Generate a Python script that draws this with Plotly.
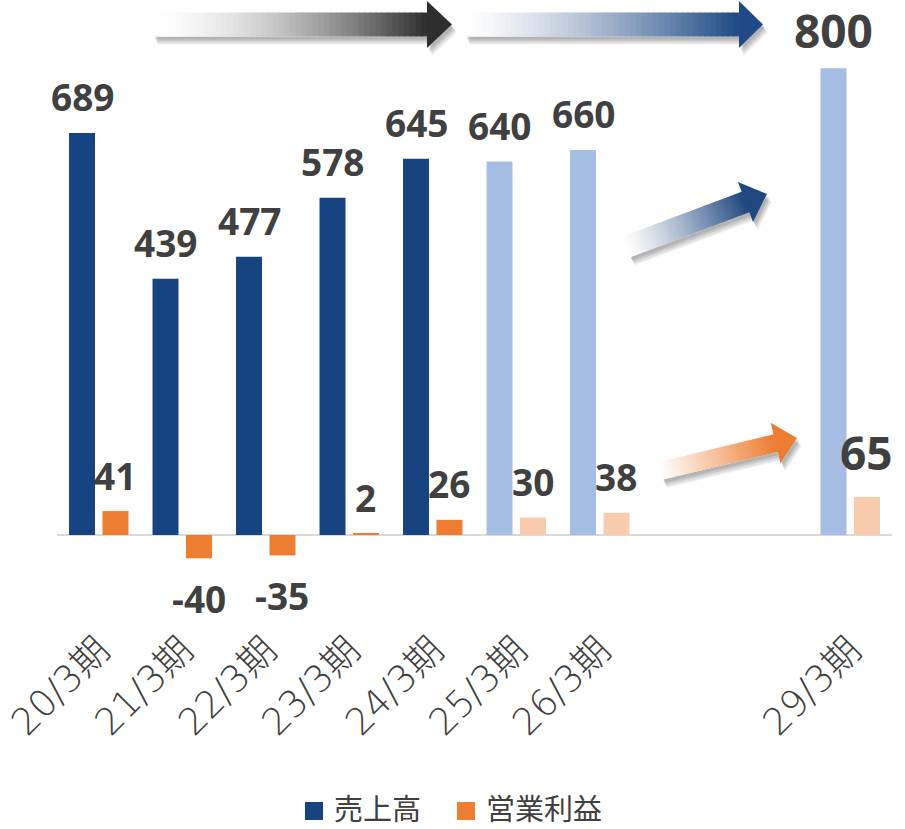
import plotly.graph_objects as go

# ---------------- data ----------------
categories = ['20/3期', '21/3期', '22/3期', '23/3期', '24/3期',
              '25/3期', '26/3期', '27/3期', '28/3期', '29/3期']
sales = [689, 439, 477, 578, 645, 640, 660, None, None, 800]
op_profit = [41, -40, -35, 2, 26, 30, 38, None, None, 65]
is_forecast = [False, False, False, False, False, True, True, True, True, True]
big_label = [False] * 9 + [True]
shown_ticks = [c for c, s in zip(categories, sales) if s is not None]

# ---------------- style ----------------
W, H = 905, 829
ML, MR, MT, MB = 57, 13, 10, 209
PW, PH = W - ML - MR, H - MT - MB
SALES_ACT, SALES_FC = '#174480', '#A6BDE4'
OP_ACT, OP_FC = '#ED7D31', '#F8CBAD'
TXT = '#404040'
NUM_FONT = 'Open Sans, Noto Sans, DejaVu Sans'
JP_FONT = 'Noto Sans CJK JP'
TICK_FONT = 'DejaVu Sans, Noto Sans CJK JP'

fig = go.Figure()
fig.add_trace(go.Bar(
    x=categories, y=sales, name='売上高',
    marker=dict(color=[SALES_FC if f else SALES_ACT for f in is_forecast], line_width=0),
    hoverinfo='x+y', showlegend=False))
fig.add_trace(go.Bar(
    x=categories, y=op_profit, name='営業利益',
    marker=dict(color=[OP_FC if f else OP_ACT for f in is_forecast], line_width=0),
    hoverinfo='x+y', showlegend=False))

# ---------------- data labels ----------------
SLOT = PW / len(categories) * (1 - 0.198) / 2  # px width of one bar slot
for series, side, big_off in ((sales, -1, 38), (op_profit, 1, 45)):
    for c, v, big in zip(categories, series, big_label):
        if v is None:
            continue
        size = 46 if big else 37
        off = (big_off if big else 36) if v >= 0 else -40
        fig.add_annotation(
            x=c, y=v, xref='x', yref='y', text=str(v), showarrow=False,
            xshift=side * SLOT / 2, yshift=off, yanchor='middle', borderpad=0,
            font=dict(family=NUM_FONT, size=size, color=TXT, weight='bold'))

# ---------------- helpers for decorations (pixel -> paper) ----------------
def px(x):
    return (x - ML) / PW


def py(y):
    return (MT + PH - y) / PH


def poly_path(pts):
    return 'M ' + ' L '.join(f'{px(x):.5f},{py(y):.5f}' for x, y in pts) + ' Z'


def mix(c0, c1, t):
    a = [int(c0[i:i + 2], 16) for i in (1, 3, 5)]
    b = [int(c1[i:i + 2], 16) for i in (1, 3, 5)]
    return 'rgb(%d,%d,%d)' % tuple(round(a[k] + (b[k] - a[k]) * t) for k in range(3))


def arrow(x0, y0, x1, y1, hw_shaft, hw_head, head_len, c0, c1, n=48, gamma=1.4):
    dx, dy = x1 - x0, y1 - y0
    L = (dx * dx + dy * dy) ** 0.5
    ux, uy = dx / L, dy / L
    nx, ny = -uy, ux
    shaft_len = L - head_len

    def P(s, o):
        return (x0 + ux * s + nx * o, y0 + uy * s + ny * o)

    outline = [P(0, -hw_shaft), P(shaft_len, -hw_shaft), P(shaft_len, -hw_head),
               P(L, 0), P(shaft_len, hw_head), P(shaft_len, hw_shaft), P(0, hw_shaft)]
    # shadow
    for ox, oy, a in ((2, 3, 0.10), (3, 5, 0.10), (4, 7, 0.07), (5, 8, 0.05)):
        fig.add_shape(type='path', xref='paper', yref='paper',
                      path=poly_path([(x + ox, y + oy) for x, y in outline]),
                      fillcolor=f'rgba(0,0,0,{a})', line_width=0, layer='above')
    # white base to hide shadow under the body
    fig.add_shape(type='path', xref='paper', yref='paper', path=poly_path(outline),
                  fillcolor='white', line_width=0, layer='above')
    # gradient shaft
    for i in range(n):
        s0 = shaft_len * i / n
        s1 = min(shaft_len * (i + 1) / n + 0.8, shaft_len + 0.5)
        t = ((i + 0.5) / n) ** gamma
        fig.add_shape(type='path', xref='paper', yref='paper',
                      path=poly_path([P(s0, -hw_shaft), P(s1, -hw_shaft),
                                      P(s1, hw_shaft), P(s0, hw_shaft)]),
                      fillcolor=mix(c0, c1, t), line_width=0, layer='above')
    fig.add_shape(type='path', xref='paper', yref='paper',
                  path=poly_path([P(shaft_len, -hw_head), P(L, 0), P(shaft_len, hw_head)]),
                  fillcolor=c1, line_width=0, layer='above')


arrow(153, 24.5, 452, 24.5, 12, 23.5, 25, '#FFFFFF', '#2E2E2E', gamma=1.6)
arrow(465, 24.5, 763, 24.5, 12, 23.5, 24, '#FFFFFF', '#1F4A85', gamma=1.3)
arrow(626, 247, 767, 194, 11, 21.5, 23, '#FFFFFF', '#21477F', gamma=1.2)
arrow(660, 471, 797, 438, 9, 21, 22, '#FFFFFF', '#ED7D31', gamma=1.0)

# ---------------- legend (manual) ----------------
for x0, color, label, tx in ((305, SALES_ACT, '売上高', 333),
                             (457, OP_ACT, '営業利益', 485)):
    fig.add_shape(type='rect', xref='paper', yref='paper',
                  x0=px(x0), x1=px(x0 + 18), y0=py(820), y1=py(802),
                  fillcolor=color, line_width=0)
    fig.add_annotation(x=px(tx), y=py(807), xref='paper', yref='paper', text=label,
                       showarrow=False, xanchor='left', yanchor='middle', borderpad=0,
                       font=dict(family=JP_FONT, size=29, color=TXT))

fig.update_layout(
    width=W, height=H, margin=dict(l=ML, r=MR, t=MT, b=MB, autoexpand=False),
    paper_bgcolor='white', plot_bgcolor='white',
    barmode='group', bargap=0.198, bargroupgap=0.224,
    showlegend=False,
    xaxis=dict(type='category', categoryorder='array', categoryarray=categories,
               range=[-0.5, len(categories) - 0.5], autorange=False,
               tickmode='array', tickvals=shown_ticks, ticktext=shown_ticks,
               tickangle=-45,
               tickfont=dict(family=TICK_FONT, size=37, color=TXT, weight=300),
               ticklabelshift=0, ticklabelstandoff=0,
               automargin=False,
               showgrid=False, showline=False, ticks='', zeroline=False),
    yaxis=dict(range=[-(MT + PH - 535) / 0.5835, (535 - MT) / 0.5835],
               automargin=False,
               showticklabels=False, showgrid=False, ticks='', showline=False,
               zeroline=True, zerolinecolor='#D9D9D9', zerolinewidth=2),
)

fig.write_html('out.html')
